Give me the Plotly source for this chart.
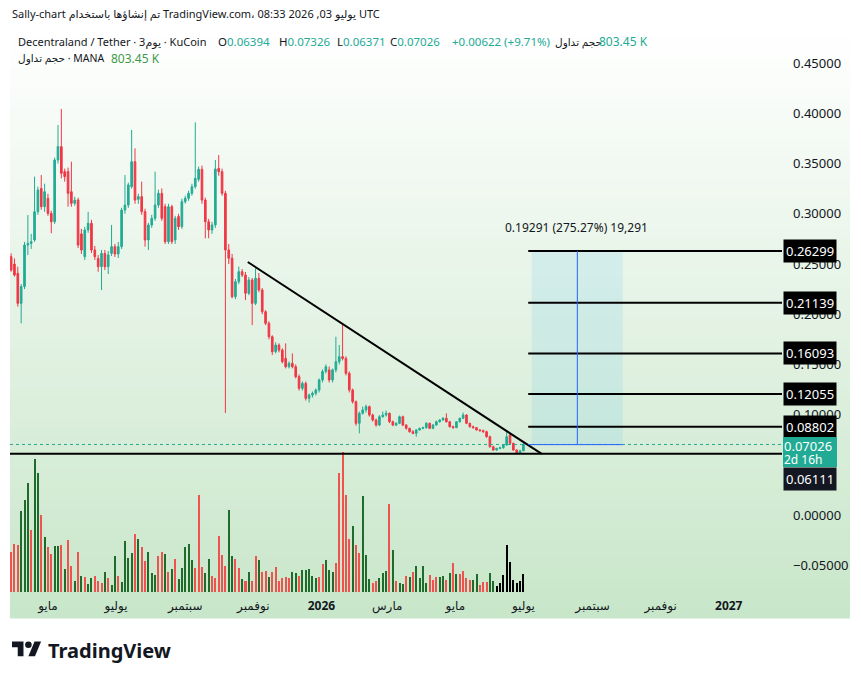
import pandas as pd
import plotly.graph_objects as go

# ---------------- data (3-day candles, MANA/USDT KuCoin) ----------------
start_date = "2025-03-29"
n_candles = 154
dates = pd.date_range(start_date, periods=n_candles, freq="3D")

opens = [0.2573,0.2500,0.2407,0.2108,0.2275,0.2689,0.2705,0.2739,0.3021,0.3253,
         0.3071,0.3154,0.3004,0.2921,0.3536,0.3669,0.3420,0.3420,0.3220,0.3104,
         0.3137,0.2800,0.2573,0.2839,0.2906,0.2640,0.2556,0.2473,0.2606,0.2473,
         0.2606,0.2673,0.2600,0.2673,0.3037,0.3087,0.3270,0.3519,0.3144,0.3171,
         0.3021,0.2739,0.2889,0.2955,0.3087,0.3204,0.3071,0.2722,0.3071,0.2739,
         0.2972,0.2872,0.3121,0.3154,0.3204,0.3270,0.3343,0.3443,0.3137,0.2921,
         0.2839,0.2889,0.3453,0.3420,0.3204,0.2640,0.2557,0.2174,0.2324,0.2424,
         0.2390,0.2208,0.2341,0.2108,0.2357,0.2241,0.2025,0.1909,0.1776,0.1627,
         0.1693,0.1643,0.1560,0.1477,0.1511,0.1477,0.1378,0.1262,0.1311,0.1162,
         0.1195,0.1212,0.1245,0.1345,0.1430,0.1445,0.1345,0.1445,0.1527,0.1577,
         0.1560,0.1411,0.1245,0.1129,0.0913,0.1013,0.1046,0.1079,0.0996,0.0946,
         0.0896,0.0979,0.0996,0.1013,0.0929,0.0896,0.0913,0.0979,0.0896,0.0863,
         0.0830,0.0813,0.0847,0.0863,0.0870,0.0913,0.0863,0.0896,0.0929,0.0946,
         0.0963,0.0929,0.0880,0.0870,0.0929,0.0963,0.0996,0.0913,0.0880,0.0870,
         0.0847,0.0840,0.0830,0.0780,0.0680,0.0647,0.0663,0.0670,0.0697,0.0797,
         0.0714,0.0647,0.0614,0.06394]
highs = [0.2606,0.2556,0.2473,0.2300,0.2720,0.2988,0.2800,0.3370,0.3270,0.3386,
         0.3300,0.3200,0.3030,0.3560,0.3885,0.4044,0.3450,0.3460,0.3519,0.3170,
         0.3160,0.2850,0.2870,0.3020,0.2940,0.2680,0.2590,0.2640,0.2640,0.2630,
         0.2889,0.2700,0.2720,0.3060,0.3386,0.3310,0.3835,0.3652,0.3200,0.3320,
         0.3050,0.2910,0.2990,0.3420,0.3240,0.3253,0.3100,0.3100,0.3090,0.2980,
         0.3000,0.3150,0.3180,0.3230,0.3300,0.3911,0.3470,0.3480,0.3160,0.2950,
         0.2920,0.3536,0.3586,0.3450,0.3230,0.2700,0.2600,0.2350,0.2474,0.2450,
         0.2420,0.2370,0.2360,0.2457,0.2410,0.2260,0.2040,0.1930,0.1790,0.1720,
         0.1710,0.1660,0.1710,0.1530,0.1610,0.1500,0.1400,0.1330,0.1330,0.1210,
         0.1230,0.1260,0.1360,0.1450,0.1500,0.1480,0.1460,0.1776,0.1693,0.1899,
         0.1580,0.1430,0.1260,0.1140,0.1030,0.1080,0.1100,0.1090,0.1010,0.0960,
         0.0995,0.1030,0.1040,0.1020,0.0940,0.0925,0.0990,0.0990,0.0905,0.0870,
         0.0845,0.0855,0.0870,0.0880,0.0925,0.0920,0.0905,0.0940,0.0955,0.0975,
         0.1013,0.0935,0.0890,0.0935,0.0970,0.1020,0.1005,0.0920,0.0890,0.0875,
         0.0855,0.0850,0.0840,0.0790,0.0690,0.0670,0.0680,0.0705,0.0830,0.0810,
         0.0720,0.0655,0.0650,0.07326]
lows = [0.2423,0.2374,0.2075,0.1909,0.2250,0.2590,0.2650,0.2720,0.2990,0.3040,
        0.3020,0.2980,0.2806,0.2900,0.3500,0.3353,0.3320,0.3071,0.3070,0.3080,
        0.2660,0.2600,0.2540,0.2810,0.2610,0.2540,0.2423,0.2241,0.2440,0.2400,
        0.2580,0.2570,0.2560,0.2650,0.3000,0.3060,0.3250,0.3100,0.3100,0.2990,
        0.2673,0.2640,0.2860,0.2930,0.3060,0.2930,0.2700,0.2700,0.2700,0.2700,
        0.2840,0.2850,0.3100,0.3130,0.3180,0.3250,0.3320,0.3100,0.2756,0.2756,
        0.2800,0.2860,0.3380,0.3180,0.1016,0.2500,0.2158,0.2150,0.2300,0.2370,
        0.2141,0.2190,0.1892,0.2090,0.2220,0.2000,0.1890,0.1750,0.1594,0.1610,
        0.1620,0.1510,0.1460,0.1460,0.1460,0.1360,0.1240,0.1240,0.1140,0.1120,
        0.1170,0.1190,0.1220,0.1320,0.1410,0.1320,0.1320,0.1420,0.1500,0.1540,
        0.1390,0.1220,0.1110,0.0890,0.0813,0.1000,0.1020,0.0980,0.0930,0.0880,
        0.0885,0.0970,0.0980,0.0915,0.0885,0.0885,0.0905,0.0885,0.0850,0.0820,
        0.0805,0.0780,0.0840,0.0855,0.0860,0.0855,0.0855,0.0890,0.0920,0.0940,
        0.0920,0.0870,0.0860,0.0865,0.0920,0.0955,0.0905,0.0870,0.0860,0.0840,
        0.0830,0.0820,0.0770,0.0670,0.0640,0.0640,0.0655,0.0660,0.0690,0.0705,
        0.0640,0.0605,0.0608,0.06371]
closes = [0.2440,0.2390,0.2108,0.2275,0.2689,0.2705,0.2722,0.3021,0.3237,0.3071,
          0.3220,0.3004,0.2921,0.3536,0.3669,0.3403,0.3370,0.3204,0.3104,0.3137,
          0.2689,0.2640,0.2839,0.2906,0.2640,0.2573,0.2473,0.2606,0.2473,0.2590,
          0.2673,0.2600,0.2673,0.3037,0.3087,0.3287,0.3519,0.3137,0.3171,0.3021,
          0.2739,0.2889,0.2955,0.3087,0.3204,0.2955,0.2722,0.3071,0.2722,0.2955,
          0.2872,0.3121,0.3154,0.3204,0.3270,0.3353,0.3443,0.3137,0.2921,0.2839,
          0.2889,0.3446,0.3420,0.3204,0.2640,0.2557,0.2174,0.2324,0.2424,0.2390,
          0.2208,0.2341,0.2108,0.2357,0.2241,0.2025,0.1909,0.1776,0.1627,0.1693,
          0.1643,0.1527,0.1477,0.1511,0.1477,0.1378,0.1262,0.1311,0.1162,0.1195,
          0.1212,0.1245,0.1345,0.1430,0.1477,0.1345,0.1445,0.1527,0.1577,0.1560,
          0.1411,0.1245,0.1129,0.0913,0.1013,0.1046,0.1079,0.0996,0.0946,0.0896,
          0.0979,0.0996,0.1013,0.0929,0.0896,0.0913,0.0979,0.0896,0.0863,0.0830,
          0.0813,0.0847,0.0863,0.0870,0.0913,0.0863,0.0896,0.0929,0.0946,0.0963,
          0.0929,0.0880,0.0870,0.0929,0.0963,0.0996,0.0913,0.0880,0.0870,0.0847,
          0.0840,0.0830,0.0780,0.0680,0.0647,0.0663,0.0670,0.0697,0.0780,0.0714,
          0.0647,0.0614,0.0639,0.07026]

# volume in thousands of MANA
volumes = [1816,2194,2118,3676,4191,4947,2799,6052,5401,3480,
           2496,2043,1710,2073,2073,2118,1059,2345,1165,484,
           1800,711,681,348,635,711,499,424,893,635,
           303,1619,711,439,2300,1543,1770,2648,2421,2043,
           1407,1800,862,772,1619,1800,1710,908,1044,1483,
           590,1089,2043,2164,1437,1089,4388,1120,862,1483,
           711,635,2527,1664,1165,3707,1619,1483,1074,575,
           484,908,484,1619,1437,893,938,681,893,1120,
           484,635,681,635,893,847,711,983,983,1029,
           711,635,681,1256,1437,983,893,1301,5401,6355,
           4388,2391,2981,2118,1770,4343,1664,575,409,499,
           635,847,938,3979,1891,484,409,348,711,681,
           893,1165,635,1165,409,757,530,681,681,711,
           530,862,1316,802,802,938,635,530,530,802,
           318,439,439,862,484,287,393,772,2118,1347,
           530,393,484,803.45]
volume_dir = list("rrrgggrggrgrrggrgrrgrgrggrrrgrggrggggrgrrgggrrgrgrgggggrrrgg"
                  "rrrrrggrrgrgrrgrrgrrrrrrggrgggggrrgggrrrrrgrrgggrrgggrgrggrg"
                  "rggggrrrggrgrgrrrrggrrrgg")

tick_dates = ["2025-05-01","2025-07-01","2025-09-01","2025-11-01","2026-01-01",
              "2026-03-01","2026-05-01","2026-07-01","2026-09-01","2026-11-01","2027-01-01"]
tick_text = ["مايو","يوليو","سبتمبر","نوفمبر","<b>2026</b>","مارس","مايو","يوليو",
             "سبتمبر","نوفمبر","<b>2027</b>"]
y_ticks = [-0.05,0.0,0.10,0.15,0.20,0.25,0.30,0.35,0.40,0.45]

levels = [0.26299,0.21139,0.16093,0.12055,0.08802]
support = 0.06111
last_price = 0.07026
countdown = "2d 16h"
range_low, range_high = 0.07008, 0.26299
range_text = "0.19291 (275.27%) 19,291"
trend_start = ("2025-10-27", 0.2520)
trend_end = ("2026-07-17 10:00", 0.0608)
box_x = ("2026-07-08 10:00", "2026-09-28")
level_x0 = "2026-07-05 08:00"
arrow_x = "2026-08-18 08:00"

# ---------------- figure geometry helpers ----------------
W, H = 861, 680
L, R, T, B = 10, 782, 28, 592
def PX(px):
    return (px - L) / (R - L)
def PY(py):
    return (B - py) / (B - T)

UP, DOWN = "#22ab94", "#f23645"
VUP, VDOWN = "#1f6b2c", "#ef5350"
FONT = "Noto Sans, DejaVu Sans, sans-serif"
TXT = "#131722"

fig = go.Figure()

vol_colors = [VUP if d == "g" else VDOWN for d in volume_dir]
fig.add_trace(go.Bar(x=dates, y=volumes, marker=dict(color=vol_colors, line=dict(width=0)),
                     width=3*86400000*0.6, yaxis="y2", hoverinfo="skip"))

fig.add_trace(go.Candlestick(
    x=dates, open=opens, high=highs, low=lows, close=closes,
    increasing=dict(line=dict(color=UP, width=1), fillcolor=UP),
    decreasing=dict(line=dict(color=DOWN, width=1), fillcolor=DOWN),
    whiskerwidth=0, hoverinfo="skip"))

shapes = []
# background gradient
n_bands = 59
top_c = (255, 255, 255)
bot_c = (200, 230, 201)
g_top, g_bot = 28, 618
for k in range(n_bands):
    f = (k + 0.5) / n_bands
    c = tuple(int(round(top_c[j] + (bot_c[j] - top_c[j]) * f)) for j in range(3))
    y0 = g_top + (g_bot - g_top) * k / n_bands
    y1 = g_top + (g_bot - g_top) * (k + 1) / n_bands + 0.6
    shapes.append(dict(type="rect", xref="paper", yref="paper", x0=PX(10), x1=PX(850),
                       y0=PY(y1), y1=PY(y0), fillcolor="rgb(%d,%d,%d)" % c,
                       line=dict(width=0), layer="below"))

# measurement box
shapes.append(dict(type="rect", xref="x", yref="y", x0=box_x[0], x1=box_x[1],
                   y0=range_low, y1=range_high, fillcolor="rgba(80,190,240,0.14)",
                   line=dict(width=0), layer="below"))
# current price dotted line
shapes.append(dict(type="line", xref="paper", yref="y", x0=0, x1=1, y0=last_price, y1=last_price,
                   line=dict(color=UP, width=1, dash="dot")))
# horizontal levels
for lv in levels:
    shapes.append(dict(type="line", xref="x", yref="y", x0=level_x0, x1=pd.Timestamp("2027-03-01"),
                       y0=lv, y1=lv, line=dict(color="#000000", width=2)))
shapes.append(dict(type="line", xref="paper", yref="y", x0=0, x1=1, y0=support, y1=support,
                   line=dict(color="#000000", width=2)))
# trendline
shapes.append(dict(type="line", xref="x", yref="y", x0=trend_start[0], y0=trend_start[1],
                   x1=trend_end[0], y1=trend_end[1], line=dict(color="#000000", width=2)))
# blue base + arrow
shapes.append(dict(type="line", xref="x", yref="y", x0=level_x0, x1=box_x[1],
                   y0=range_low, y1=range_low, line=dict(color="#2962ff", width=1)))
shapes.append(dict(type="line", xref="x", yref="y", x0=arrow_x, x1=arrow_x,
                   y0=range_low, y1=range_high, line=dict(color="#2962ff", width=1)))
ax_ts = pd.Timestamp(arrow_x)
dday = pd.Timedelta(hours=int(24 * 3.5 / 1.116))
dv = 6 / 1004
shapes.append(dict(type="path", xref="x", yref="y",
                   path="M %s,%f L %s,%f L %s,%f" % (
                       (ax_ts - dday).strftime("%Y-%m-%d %H:%M"), range_high - dv,
                       ax_ts.strftime("%Y-%m-%d %H:%M"), range_high,
                       (ax_ts + dday).strftime("%Y-%m-%d %H:%M"), range_high - dv),
                   line=dict(color="#2962ff", width=1.2)))

# TradingView logo (from the logo's 36x28 outline)
sc = 0.82
def LX(u): return PX(12 + sc * u)
def LY(v): return PY(641.5 + sc * (v - 4))
def lpath(pts):
    return "M " + " L ".join("%f,%f" % (LX(a), LY(b)) for a, b in pts) + " Z"
shapes.append(dict(type="path", xref="paper", yref="paper",
                   path=lpath([(14,22),(7,22),(7,11),(0,11),(0,4),(14,4)]),
                   fillcolor="#131722", line=dict(width=0)))
shapes.append(dict(type="path", xref="paper", yref="paper",
                   path=lpath([(28,22),(20,22),(27.5,4),(35.5,4)]),
                   fillcolor="#131722", line=dict(width=0)))
shapes.append(dict(type="circle", xref="paper", yref="paper",
                   x0=LX(16), x1=LX(24), y0=LY(12), y1=LY(4),
                   fillcolor="#131722", line=dict(width=0)))

ann = []
def txt(px, py, text, size=12, color=TXT, anchor="left"):
    ann.append(dict(xref="paper", yref="paper", x=PX(px), y=PY(py), text=text,
                    xanchor=anchor, yanchor="middle", showarrow=False,
                    font=dict(family=FONT, size=size, color=color)))

txt(10, 14, "Sally-chart تم إنشاؤها باستخدام TradingView.com، يوليو 03, 2026 08:33 UTC", size=11)
txt(16, 42, "Decentraland / Tether · 3يوم · KuCoin", size=11)
txt(216, 42, "O<span style='color:%s'>0.06394</span>" % UP, size=11.5)
txt(277, 42, "H<span style='color:%s'>0.07326</span>" % UP, size=11.5)
txt(335, 42, "L<span style='color:%s'>0.06371</span>" % UP, size=11.5)
txt(388, 42, "C<span style='color:%s'>0.07026</span>" % UP, size=11.5)
txt(450, 42, "+0.00622 (+9.71%)", size=11.5, color=UP)
txt(553, 42, "حجم تداول", size=10.5)
txt(597, 42, "803.45 K", color=UP)
txt(16, 58, "حجم تداول · MANA", size=10.5)
txt(109, 58, "803.45 K", color="#3d9a4a")
txt(576.7, 227, range_text, anchor="center")
txt(46, 650, "<b>TradingView</b>", size=20, color="#131722")

for lv in levels:
    ann.append(dict(xref="paper", yref="y", x=1, y=lv, xanchor="left", yanchor="middle",
                    xshift=1, text="%.5f" % lv, showarrow=False, bgcolor="#000000",
                    borderpad=2, font=dict(family=FONT, size=13, color="#ffffff")))
# current price label (two stacked boxes)
ann.append(dict(xref="paper", yref="y", x=1, y=last_price, xanchor="left", yanchor="middle",
                xshift=1, yshift=-1, text="%.5f" % last_price, showarrow=False, width=52,
                height=15, bgcolor=UP, borderpad=1, borderwidth=0, align="left",
                font=dict(family=FONT, size=13, color="#ffffff")))
ann.append(dict(xref="paper", yref="y", x=1, y=last_price, xanchor="left", yanchor="middle",
                xshift=1, yshift=-15, text=countdown, showarrow=False, width=52,
                height=14, bgcolor=UP, borderpad=1, borderwidth=0, align="left",
                font=dict(family=FONT, size=12, color="#ffffff")))
ann.append(dict(xref="paper", yref="y", x=1, y=support, xanchor="left", yanchor="middle",
                xshift=1, yshift=-25, text="%.5f" % support, showarrow=False,
                bgcolor="#131722", borderpad=2,
                font=dict(family=FONT, size=13, color="#ffffff")))

y_lo = (515 - B) / 1004
y_hi = (515 - T) / 1004
vmax = max(volumes)

fig.update_layout(
    width=W, height=H, margin=dict(l=L, r=W - R, t=T, b=H - B),
    paper_bgcolor="#ffffff", plot_bgcolor="rgba(0,0,0,0)",
    showlegend=False, shapes=shapes, annotations=ann,
    font=dict(family=FONT, color=TXT),
    xaxis=dict(type="date", range=["2025-03-28", "2027-02-17 17:00"], rangeslider=dict(visible=False),
               showgrid=False, zeroline=False, showline=False, ticks="",
               tickvals=tick_dates, ticktext=tick_text, ticklabelstandoff=5,
               tickfont=dict(family=FONT, size=12, color=TXT)),
    yaxis=dict(range=[y_lo, y_hi], side="right", showgrid=False, zeroline=False, showline=False,
               ticks="", tickvals=y_ticks, tickformat=".5f", ticklabelstandoff=10,
               tickfont=dict(family=FONT, size=13, color=TXT)),
    yaxis2=dict(overlaying="y", range=[0, vmax * 564 / 140], visible=False, showgrid=False),
    bargap=0,
)

fig.write_html("out.html")
